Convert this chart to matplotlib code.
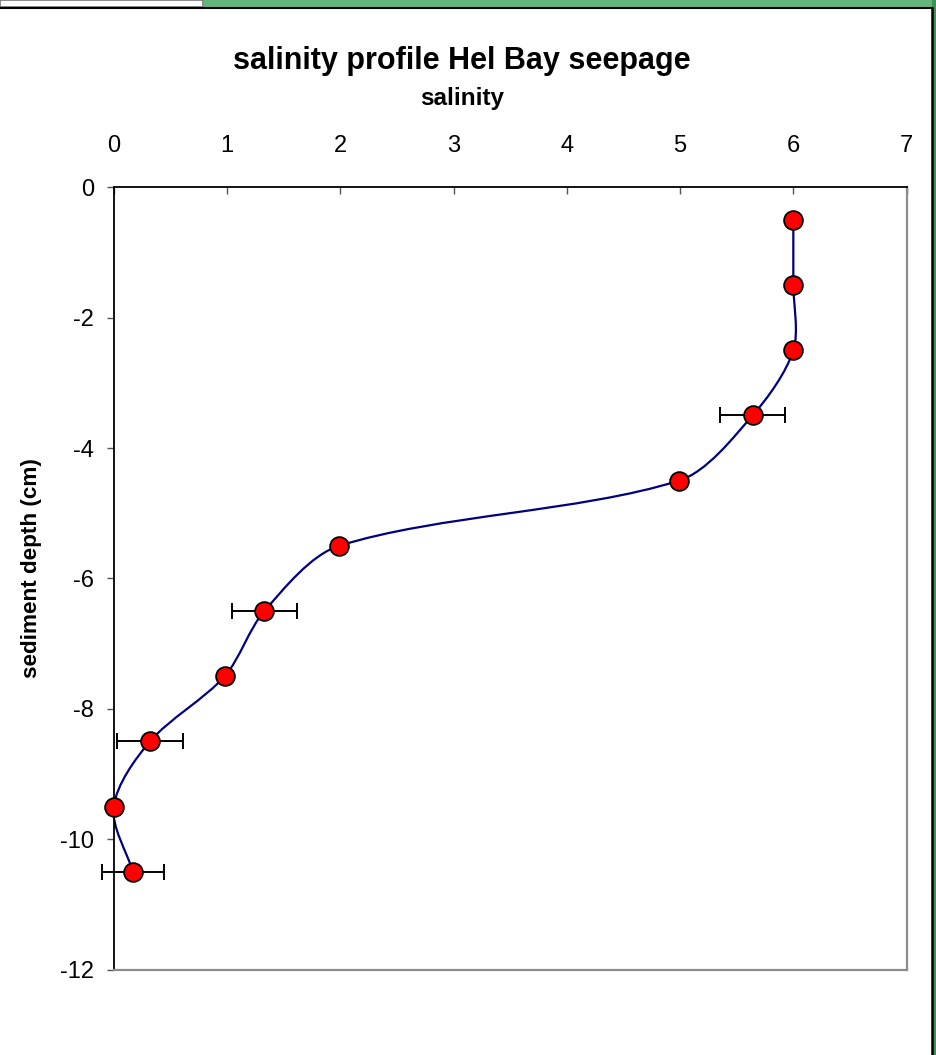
import numpy as np
import matplotlib
matplotlib.use("Agg")
import matplotlib.pyplot as plt
from matplotlib.path import Path
from matplotlib.patches import PathPatch, Rectangle

plt.rcParams['font.family'] = ['Liberation Sans', 'DejaVu Sans']
plt.rcParams['axes.unicode_minus'] = False

# ---- data ----
depth = [-0.5, -1.5, -2.5, -3.5, -4.5, -5.5, -6.5, -7.5, -8.5, -9.5, -10.5]
salinity = [6.0, 6.0, 6.0, 5.64, 4.99, 1.99, 1.33, 0.98, 0.32, 0.0, 0.17]
salinity_err = [0.0, 0.0, 0.0, 0.29, 0.0, 0.0, 0.29, 0.0, 0.29, 0.0, 0.27]
x_ticks = [0, 1, 2, 3, 4, 5, 6, 7]
y_ticks = [0, -2, -4, -6, -8, -10, -12]

title = "salinity profile Hel Bay seepage"
x_label = "salinity"
y_label = "sediment depth (cm)"

W, H = 937, 1055
fig = plt.figure(figsize=(W / 100, H / 100), dpi=100)
fig.patch.set_facecolor('white')

# ---- decorative frame (background slide) ----
def px_rect(x0, y0, x1, y1, **kw):
    r = Rectangle((x0 / W, 1 - y1 / H), (x1 - x0) / W, (y1 - y0) / H,
                  transform=fig.transFigure, **kw)
    fig.add_artist(r)

px_rect(204, 0, 937, 8, facecolor='#63b67c', edgecolor='none', zorder=0)
px_rect(932, 0, 937, 1055, facecolor='#3e9157', edgecolor='none', zorder=0)
px_rect(0, 0, 203, 7, facecolor='white', edgecolor='#777777', linewidth=1.2, zorder=1)
# chart area border
fig.add_artist(plt.Line2D([0, 932 / W], [1 - 8 / H, 1 - 8 / H], transform=fig.transFigure,
                          color='black', linewidth=1.5))
fig.add_artist(plt.Line2D([932 / W, 932 / W], [1 - 8 / H, 0], transform=fig.transFigure,
                          color='black', linewidth=1.8))

# ---- axes ----
ax = fig.add_axes([113.7 / W, 1 - 969.6 / H, (906.6 - 113.7) / W, (969.6 - 187.3) / H])
ax.set_xlim(0, 7)
ax.set_ylim(-12, 0)
ax.xaxis.tick_top()
ax.set_xticks(x_ticks)
ax.set_yticks(y_ticks)
ax.tick_params(axis='x', direction='in', length=5, width=1, colors='#555555',
               labelcolor='black', labelsize=17, pad=22)
ax.tick_params(axis='y', direction='out', length=5, width=1, colors='#555555',
               labelcolor='black', labelsize=17, pad=9)
ax.spines['top'].set_color('black')
ax.spines['left'].set_color('black')
ax.spines['top'].set_linewidth(1.3)
ax.spines['left'].set_linewidth(1.3)
ax.spines['right'].set_color('#8c8c8c')
ax.spines['bottom'].set_color('#8c8c8c')
ax.spines['right'].set_linewidth(1.6)
ax.spines['bottom'].set_linewidth(1.6)

# ---- smoothed line (Bezier through the data points, chord-scaled tangents) ----
sx, sy = 113.3, 65.2  # screen aspect of one data unit, for smoothing only
pts = np.column_stack([np.array(salinity) * sx, np.array(depth) * sy])
n = len(pts)

def unit(v):
    l = np.hypot(*v)
    return v / l if l > 0 else v

tang = []
for i in range(n):
    a = pts[i - 1] if i > 0 else pts[i]
    b = pts[i + 1] if i < n - 1 else pts[i]
    tang.append(unit(b - a))

k = 0.3
verts = [pts[0]]
codes = [Path.MOVETO]
for i in range(n - 1):
    L = np.hypot(*(pts[i + 1] - pts[i]))
    c1 = pts[i] + tang[i] * L * k
    c2 = pts[i + 1] - tang[i + 1] * L * k
    verts += [c1, c2, pts[i + 1]]
    codes += [Path.CURVE4] * 3
verts = np.array(verts) / np.array([sx, sy])
ax.add_patch(PathPatch(Path(verts, codes), facecolor='none', edgecolor='#000080',
                       linewidth=1.6, zorder=2))

# ---- error bars ----
idx = [i for i, e in enumerate(salinity_err) if e > 0]
eb = ax.errorbar([salinity[i] for i in idx], [depth[i] for i in idx],
                 xerr=[salinity_err[i] for i in idx], fmt='none', ecolor='black',
                 elinewidth=1.4, capsize=5.5, capthick=1.4, zorder=3)
for art in list(eb.lines[1]) + list(eb.lines[2]):
    art.set_clip_on(False)

# ---- markers ----
ax.plot(salinity, depth, linestyle='none', marker='o', markersize=13.5,
        markerfacecolor='#ff0000', markeredgecolor='black', markeredgewidth=1.3,
        zorder=4, clip_on=False)

# ---- texts ----
fig.text(461.5 / W, 1 - 61 / H, title, ha='center', va='center',
         fontsize=22, fontweight='bold')
fig.text(462 / W, 1 - 98 / H, x_label, ha='center', va='center',
         fontsize=17.5, fontweight='bold')
fig.text(32 / W, 1 - 568 / H, y_label, ha='center', va='center', rotation=90,
         fontsize=16.2, fontweight='bold')

fig.savefig('out.png', dpi=100)
